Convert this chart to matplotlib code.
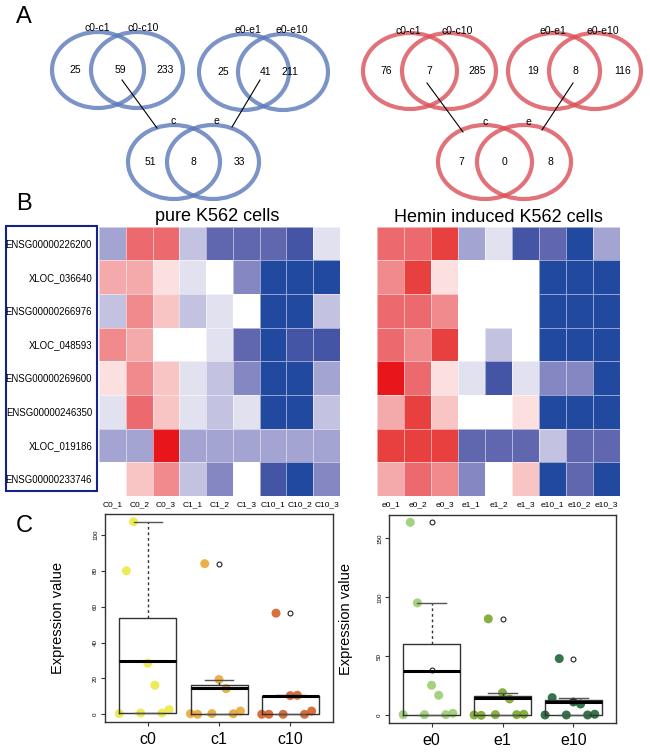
import matplotlib
matplotlib.use("Agg")
import matplotlib.pyplot as plt
import numpy as np
from matplotlib.colors import ListedColormap, BoundaryNorm
from matplotlib.patches import Ellipse, Rectangle

plt.rcParams['font.family'] = ['Liberation Sans', 'DejaVu Sans']

W, H = 650, 753

# ---- panel A: venn counts (left only, shared, right only)
venn_names = [("c0-c1", "c0-c10"), ("e0-e1", "e0-e10"), ("c", "e")]
venn_counts_pure = [(25, 59, 233), (25, 41, 211), (51, 8, 33)]
venn_counts_hemin = [(76, 7, 285), (19, 8, 116), (7, 0, 8)]

# ---- panel B: heatmap colour levels (-7 blue .. 0 white .. 7 red)
genes = ["ENSG00000226200", "XLOC_036640", "ENSG00000266976", "XLOC_048593",
         "ENSG00000269600", "ENSG00000246350", "XLOC_019186", "ENSG00000233746"]
pure_cols = ["C0_1", "C0_2", "C0_3", "C1_1", "C1_2", "C1_3", "C10_1", "C10_2", "C10_3"]
hemin_cols = ["e0_1", "e0_2", "e0_3", "e1_1", "e1_2", "e1_3", "e10_1", "e10_2", "e10_3"]
pure_levels = [
    [-3, 5, 5, -2, -5, -5, -5, -6, -1],
    [3, 3, 1, -1, 0, -4, -7, -7, -7],
    [-2, 4, 2, -2, -1, 0, -7, -7, -2],
    [4, 3, 0, 0, -1, -5, -7, -6, -6],
    [1, 4, 2, -1, -2, -4, -7, -7, -3],
    [-1, 5, 2, -1, -2, -1, -7, -7, -2],
    [-3, -3, 7, -3, -3, -3, -3, -3, -3],
    [0, 2, 4, -2, -4, 0, -6, -7, -4],
]
hemin_levels = [
    [5, 5, 6, -3, -1, -6, -5, -7, -3],
    [4, 6, 1, 0, 0, 0, -7, -7, -7],
    [5, 5, 4, 0, 0, 0, -7, -7, -7],
    [5, 4, 6, 0, -2, 0, -7, -7, -7],
    [7, 5, 1, -1, -6, -1, -4, -4, -7],
    [3, 6, 2, 0, 0, 1, -7, -7, -7],
    [6, 6, 6, -5, -5, -5, -2, -5, -5],
    [3, 5, 4, -4, 0, 2, -7, -5, -7],
]
level_colors = ['#2149A0', '#4455A5', '#6167AF', '#8587C2', '#A4A4D2', '#C3C3E1', '#E1E1F0',
                '#FFFFFF',
                '#FCE0E0', '#F8C4C4', '#F4A9AA', '#F08A8C', '#EC6A6D', '#E8403F', '#E8161B']

# ---- panel C: expression values per group
c_groups = ["c0", "c1", "c10"]
c_points = [[0.4, 80, 107.4, 0.7, 28.5, 16.2, 0.7, 2.6],
            [0.3, 0, 84, 0.4, 19.4, 14.3, 0.3, 1.8],
            [0, 0, 56.4, 0, 10.4, 10.6, 0, 1.8]]
c_box = [(0.6, 29.6, 53.8, 0.6, 107.4), (0, 14.9, 16.6, 0, 19.4), (0, 10.0, 10.4, 0, 11.0)]
c_fliers = [[], [84], [56.4]]
e_groups = ["e0", "e1", "e10"]
e_points = [[0.6, 163.6, 95.3, 0.6, 25.5, 17, 0.6, 1.7],
            [0.3, 0, 81.8, 0.6, 19.2, 13.9, 0.6, 0.9],
            [0.3, 15, 48.1, 0.3, 11.3, 9.6, 0.3, 0.9]]
e_box = [(0.6, 37.6, 60.5, 0.6, 95.3), (0, 14.4, 16.1, 0, 19.2), (0, 11.6, 13.3, 0, 14.7)]
e_fliers = [[163.6, 38.2], [81.8], [48.1, 12]]
c_colors = ['#EAE83A', '#E9A22A', '#D4561A']
e_colors = ['#94CB68', '#72A31E', '#125C2C']
jitter = [-0.4, -0.3, -0.2, -0.1, 0, 0.1, 0.2, 0.3]


def rect(x0, y0, x1, y1):
    return [x0 / W, 1 - y1 / H, (x1 - x0) / W, (y1 - y0) / H]


fig = plt.figure(figsize=(W / 100, H / 100), dpi=100)
ax0 = fig.add_axes([0, 0, 1, 1])
ax0.set_xlim(0, W)
ax0.set_ylim(H, 0)
ax0.axis('off')

for lab, y in (("A", 17), ("B", 204), ("C", 526)):
    ax0.text(24, y, lab, fontsize=17, ha='center', va='center')

# venn layouts: circle centres, cy, rx, ry, label spots, number x, connector line
blue_layout = [((98, 137), 70, 46, 38, ((97, 28), (143, 28)), (75, 120, 165)),
               ((244, 283), 72, 45, 38, ((248, 30), (292, 30)), (223, 266, 290)),
               ((174, 213), 162, 46, 37, ((173, 121), (216, 121)), (150, 193, 239))]
red_layout = [((410, 449), 71, 47, 38, ((408, 31), (457, 31)), (386, 429, 477)),
              ((554, 595), 71, 46, 38, ((553, 31), (603, 31)), (533, 575, 623)),
              ((485, 524), 162, 47, 37, ((485, 122), (528, 122)), (461, 505, 550))]
blue_lines = [((122, 80), (157, 128)), ((260, 80), (232, 127))]
red_lines = [((427, 83), (463, 132)), ((573, 83), (542, 130))]


def draw_venns(layout, counts, lines, color):
    for (cxs, cy, rx, ry, labs, nx), names, cnt in zip(layout, venn_names, counts):
        for cx in cxs:
            ax0.add_patch(Ellipse((cx, cy), 2 * rx, 2 * ry, fill=False, ec=color,
                                  lw=3, alpha=0.8))
        for (lx, ly), nm in zip(labs, names):
            ax0.text(lx, ly, nm, fontsize=7.5, ha='center', va='center')
        for x, n in zip(nx, cnt):
            ax0.text(x, cy, str(n), fontsize=7.5, ha='center', va='center')
    for (x0, y0), (x1, y1) in lines:
        ax0.plot([x0, x1], [y0, y1], color='black', lw=0.8)


draw_venns(blue_layout, venn_counts_pure, blue_lines, '#5A78BA')
draw_venns(red_layout, venn_counts_hemin, red_lines, '#DB4F58')

# ---- heatmaps
cmap = ListedColormap(level_colors)
norm = BoundaryNorm(np.arange(-7.5, 8.5, 1), cmap.N)

ax0.text(217, 216, "pure K562 cells", fontsize=13, ha='center', va='center')
ax0.text(498, 217, "Hemin induced K562 cells", fontsize=13, ha='center', va='center')
ax0.add_patch(Rectangle((6, 226), 91, 265, fill=False, ec='#13238A', lw=1.5))


def heatmap(box, levels, cols, show_rows):
    ax = fig.add_axes(rect(*box))
    ax.pcolormesh(np.array(levels), cmap=cmap, norm=norm, edgecolors=(1, 1, 1, 0.5),
                  linewidth=0.4)
    ax.set_xlim(0, len(cols))
    ax.set_ylim(len(levels), 0)
    for s in ax.spines.values():
        s.set_visible(False)
    ax.set_xticks(np.arange(len(cols)) + 0.5)
    ax.set_xticklabels(cols, fontsize=6)
    ax.tick_params(axis='x', length=0, pad=4)
    if show_rows:
        ax.set_yticks(np.arange(len(levels)) + 0.5)
        ax.set_yticklabels(genes, fontsize=6.9)
        ax.tick_params(axis='y', length=0, pad=5)
    else:
        ax.set_yticks([])
    return ax


heatmap((99, 226.7, 340, 496), pure_levels, pure_cols, True)
heatmap((377, 226.7, 620, 496), hemin_levels, hemin_cols, False)


# ---- boxplots
def boxpanel(box, groups, points, boxes, fliers, colors, ylim, yticks, labx):
    ax = fig.add_axes(rect(*box))
    for i, (pts, col) in enumerate(zip(points, colors)):
        ax.scatter(np.array(jitter) + i + 1, pts, s=42, color=col, alpha=0.85,
                   edgecolors='none', zorder=2)
    stats = []
    for g, (q1, med, q3, lo, hi), fl in zip(groups, boxes, fliers):
        stats.append(dict(label=g, q1=q1, med=med, q3=q3, whislo=lo, whishi=hi,
                          fliers=fl))
    ax.bxp(stats, positions=[1, 2, 3], widths=0.8, showfliers=True, zorder=3,
           boxprops=dict(color='#333333', lw=1),
           medianprops=dict(color='black', lw=2.2),
           whiskerprops=dict(color='#333333', lw=1, ls=(0, (2, 2))),
           capprops=dict(color='#555555', lw=1),
           flierprops=dict(marker='o', mfc='none', mec='#222222', ms=3.5, mew=0.8))
    ax.set_xlim(0.4, 3.6)
    ax.set_ylim(*ylim)
    ax.set_yticks(yticks)
    ax.set_yticklabels([str(t) for t in yticks], fontsize=4.5, rotation=90, va='center')
    ax.set_xticks([1, 2, 3])
    ax.set_xticklabels(groups, fontsize=11.5)
    ax.tick_params(axis='both', length=3, width=0.8, color='#333333')
    ax.tick_params(axis='x', pad=4)
    ax.tick_params(axis='y', pad=2)
    for s in ax.spines.values():
        s.set_color('#333333')
        s.set_linewidth(1)
    ax.set_ylabel("Expression value", fontsize=10.5)
    ax.yaxis.set_label_coords(labx, 0.5)
    return ax


boxpanel((105, 514, 333, 722), c_groups, c_points, c_box, c_fliers, c_colors,
         (-4.3, 111.7), [0, 20, 40, 60, 80, 100], -0.175)
boxpanel((389, 515, 616, 723), e_groups, e_points, e_box, e_fliers, e_colors,
         (-6.5, 169.8), [0, 50, 100, 150], -0.16)

fig.savefig("out.png", dpi=100)
